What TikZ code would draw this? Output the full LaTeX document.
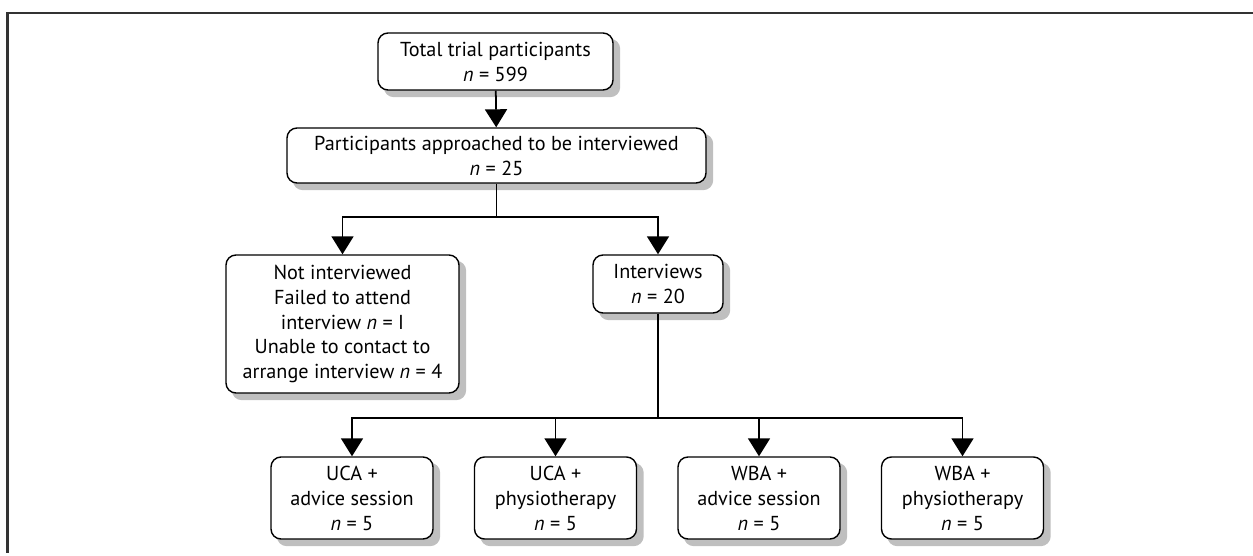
\documentclass[tikz,border=0pt]{standalone}
\usepackage{fontspec}
\setmainfont{PT Sans}
\usetikzlibrary{arrows.meta,backgrounds}

\begin{document}
\begin{tikzpicture}[
    boite/.style={draw, line width=0.8pt, rounded corners=0.2cm, fill=white, align=center,
        inner sep=0pt, font=\fontsize{11.5}{14.2}\selectfont},
    ombre/.style={fill=black!25, rounded corners=0.2cm},
    fleche/.style={line width=1pt, -{Triangle[length=0.36cm, width=0.44cm]}},
    trait/.style={line width=1pt}]

\useasboundingbox (0,0) rectangle (25.06,-11.12);
% cadre
\draw[line width=1.3pt, black!80] (0.15,-11.05) -- (0.15,-0.26) -- (25.06,-0.26);

% boites du haut
\node[boite, minimum width=4.7cm, minimum height=1.14cm] (total) at (9.91,-1.23)
    {Total trial participants\\\textit{n} = 599};
\node[boite, minimum width=8.38cm, minimum height=1.1cm] (appro) at (9.93,-3.11)
    {Participants approached to be interviewed\\\textit{n} = 25};
\node[boite, minimum width=4.66cm, minimum height=2.76cm] (nonint) at (6.85,-6.48)
    {Not interviewed\\Failed to attend\\interview \textit{n} = I\\Unable to contact to\\arrange interview \textit{n} = 4};
\node[boite, minimum width=2.6cm, minimum height=1.16cm] (interv) at (13.16,-5.68)
    {Interviews\\\textit{n} = 20};

% boites du bas
\foreach \x/\nom/\grp/\txt in {7.04/ucaa/UCA/advice session, 11.11/ucap/UCA/physiotherapy,
    15.18/wbaa/WBA/advice session, 19.25/wbap/WBA/physiotherapy}{
    \node[boite, minimum width=3.24cm, minimum height=1.64cm] (\nom) at (\x,-9.96)
        {\grp\ +\\\txt\\\textit{n} = 5};
}

% ombres (decalees sous les boites)
\begin{scope}[on background layer]
\foreach \nom in {total,appro,nonint,interv,ucaa,ucap,wbaa,wbap}{
    \fill[ombre] ([shift={(0.13,-0.13)}]\nom.south west) rectangle ([shift={(0.13,-0.13)}]\nom.north east);}
\end{scope}

% fleches
\coordinate (b1) at (9.93,-4.34);
\coordinate (b2) at (13.16,-8.36);
\draw[fleche] (total) -- (appro);
\draw[trait] (appro) -- (b1);
\draw[fleche] (b1) -| (nonint);
\draw[fleche] (b1) -| (interv);
\draw[trait] (interv) -- (b2);
\foreach \nom in {ucaa,ucap,wbaa,wbap}{\draw[fleche] (b2) -| (\nom);}

\end{tikzpicture}
\end{document}
